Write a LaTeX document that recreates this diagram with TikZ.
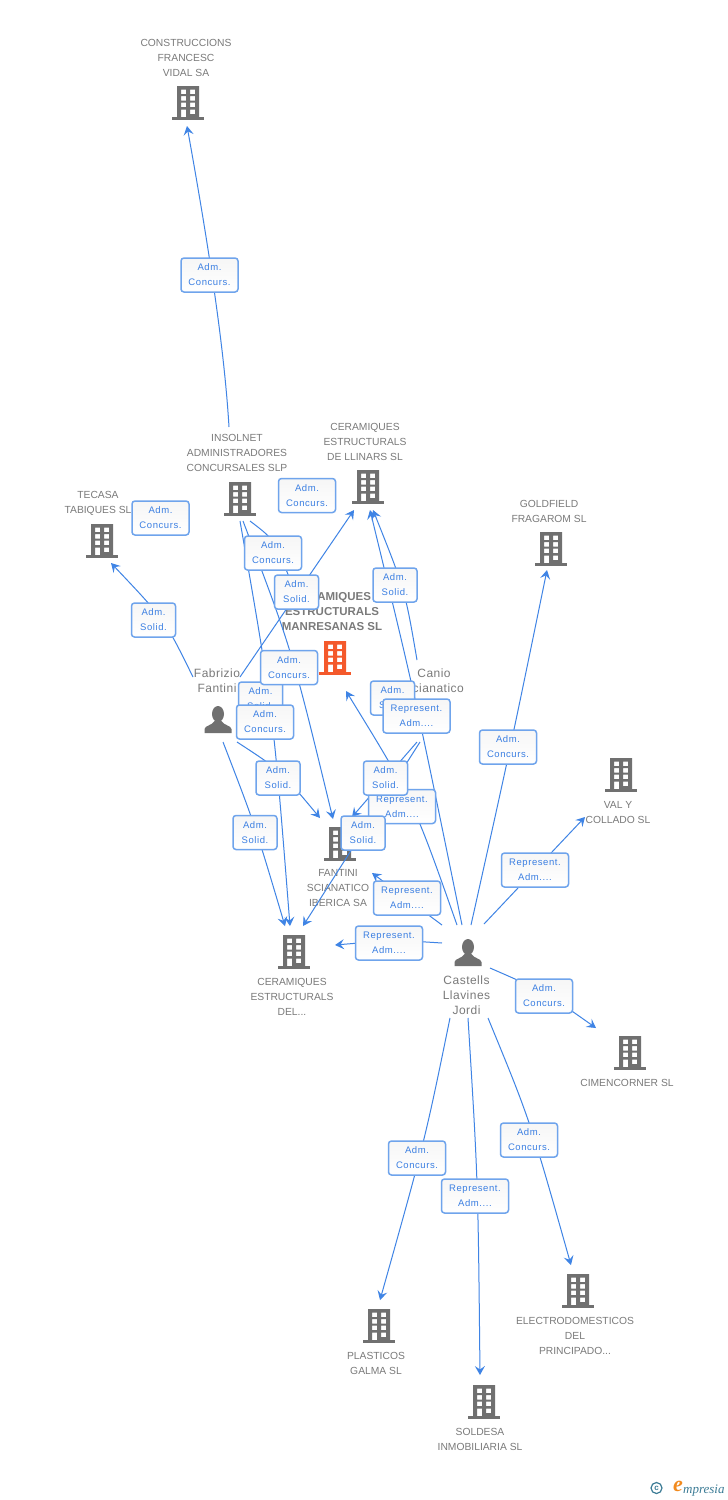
\documentclass[tikz,border=0pt]{standalone}
\usepackage{fontspec}
\setmainfont{Liberation Sans}
\newfontfamily\lblfont[LetterSpace=6]{Liberation Sans}
\newfontfamily\persfont[LetterSpace=4]{Liberation Sans}
\newfontfamily\logofont{Liberation Serif}
\definecolor{txtgray}{HTML}{7A7A7A}
\definecolor{icongray}{HTML}{707070}
\definecolor{iconred}{HTML}{F4592B}
\definecolor{linkblue}{HTML}{3F84E5}
\definecolor{boxblue}{HTML}{6FA4EC}
\definecolor{lbltxt}{HTML}{3B7FE2}
\definecolor{logoteal}{HTML}{3C7C96}
\definecolor{logoorange}{HTML}{F28A1E}
\definecolor{lbltop}{HTML}{F6F6F6}
\usetikzlibrary{arrows.meta}
\tikzset{
  conn/.style={draw=linkblue,line width=1pt,-{Stealth[length=9pt,width=10pt,inset=3.5pt]}},
  connplain/.style={draw=linkblue,line width=1pt},
  lblbase/.style={draw=boxblue,line width=1.5pt,rounded corners=3pt,top color=lbltop,bottom color=white,
    minimum height=34pt,inner sep=0pt,align=center,text=lbltxt,font=\lblfont\fontsize{9.5}{15}\selectfont},
  concurslbl/.style={lblbase,minimum width=57pt},
  solidlbl/.style={lblbase,minimum width=44pt},
  represlbl/.style={lblbase,minimum width=67pt},
  nm/.style={align=center,inner sep=0pt,text=txtgray,yshift=-1pt,font=\fontsize{10.3}{15}\selectfont},
  boldnm/.style={nm,font=\bfseries\fontsize{11.5}{15}\selectfont},
  persnm/.style={align=center,inner sep=0pt,text=txtgray,font=\persfont\fontsize{12}{15}\selectfont},
  anchorpt/.style={inner sep=0pt,minimum size=0pt},
}
% building icon: name, centre x, top y, colour
\newcommand\bldg[4]{%
  \node[anchorpt] (#1) at (#2,#3+17) {};
  \begin{scope}[shift={(#2,#3)}]
    \fill[#4,even odd rule] (-11,0) rectangle (11,31)
      (-7,3.5) rectangle (-2,8) (2,3.5) rectangle (7,8)
      (-7,10) rectangle (-2,14.5) (2,10) rectangle (7,14.5)
      (-7,16.5) rectangle (-2,21) (2,16.5) rectangle (7,21)
      (-7,23.5) rectangle (-2,31) (2,23.5) rectangle (7,28);
    \fill[#4] (-16,31) rectangle (16,33.5);
  \end{scope}}
% person icon: name, centre x, top y
\newcommand\persona[3]{%
  \node[anchorpt] (#1) at (#2,#3+14) {};
  \begin{scope}[shift={(#2,#3)}]
    \fill[icongray] (0,8) ellipse (6 and 8);
    \fill[icongray] (-13.5,27) -- (-13.5,23) .. controls (-13,19.5) and (-6,19.5) .. (-3.5,15)
      -- (3.5,15) .. controls (6,19.5) and (13,19.5) .. (13.5,23) -- (13.5,27) -- cycle;
  \end{scope}}
\begin{document}
\begin{tikzpicture}[x=1pt,y=-1pt]
\useasboundingbox (0,0) rectangle (728,1500);
\fill[white] (0,0) rectangle (728,1500);

% icons
\bldg{cons}{188}{86}{icongray}
\bldg{insol}{240}{482}{icongray}
\bldg{llin}{368}{470}{icongray}
\bldg{teca}{102}{524}{icongray}
\bldg{gold}{551}{532}{icongray}
\bldg{manr}{335}{641}{iconred}
\bldg{valy}{621}{758}{icongray}
\bldg{fant}{340}{827}{icongray}
\bldg{cdel}{294}{935}{icongray}
\bldg{cime}{630}{1036}{icongray}
\bldg{elec}{578}{1274}{icongray}
\bldg{plas}{379}{1309}{icongray}
\bldg{sold}{484}{1385}{icongray}
\persona{fabr}{218}{706}
\persona{cast}{468}{939}
\coordinate (cani) at (432,720);

% names
\node[nm] (tcons) at (186,57) {CONSTRUCCIONS\\FRANCESC\\VIDAL SA};
\node[nm] (tinsol) at (237,452) {INSOLNET\\ADMINISTRADORES\\CONCURSALES SLP};
\node[nm] (tllin) at (365,441) {CERAMIQUES\\ESTRUCTURALS\\DE LLINARS SL};
\node[nm] (tteca) at (98,502.5) {TECASA\\TABIQUES SL};
\node[nm] (tgold) at (549,510.5) {GOLDFIELD\\FRAGAROM SL};
\node[boldnm] (tmanr) at (332,611) {CERAMIQUES\\ESTRUCTURALS\\MANRESANAS SL};
\node[nm] (tvaly) at (618,811.5) {VAL Y\\COLLADO SL};
\node[nm] (tfant) at (338,887) {FANTINI\\SCIANATICO\\IBERICA SA};
\node[nm] (tcdel) at (292,996) {CERAMIQUES\\ESTRUCTURALS\\DEL...};
\node[nm] (tcime) at (627,1082) {CIMENCORNER SL};
\node[nm] (telec) at (575,1335) {ELECTRODOMESTICOS\\DEL\\PRINCIPADO...};
\node[nm] (tplas) at (376,1362.5) {PLASTICOS\\GALMA SL};
\node[nm] (tsold) at (480,1438.5) {SOLDESA\\INMOBILIARIA SL};
\node[persnm] (tfabr) at (217,680.5) {Fabrizio\\Fantini};
\node[persnm] (tcani) at (434,680.5) {Canio\\Scianatico};
\node[persnm] (tcast) at (466.5,995) {Castells\\Llavines\\Jordi};

% connector ends
\coordinate (a1) at (229,427);  \coordinate (b1) at (187,126);
\coordinate (a2) at (193,677);  \coordinate (b2) at (111,563);
\coordinate (a3) at (240,677);  \coordinate (b3) at (354,510);
\coordinate (a4) at (223,742);  \coordinate (b4) at (285,926);
\coordinate (a5) at (237,742);  \coordinate (b5) at (320,818);
\coordinate (a6) at (240,521);  \coordinate (b6) at (290,926);
\coordinate (a7) at (243,521);  \coordinate (b7) at (333,819);
\coordinate (a8) at (250,521);  \coordinate (b8) at (292,585);
\coordinate (a9) at (417,660);  \coordinate (b9) at (373,510);
\coordinate (a10) at (417,742); \coordinate (b10) at (352,817);
\coordinate (a11) at (420,742); \coordinate (b11) at (303,926);
\coordinate (a12) at (457,925); \coordinate (b12) at (346,691);
\coordinate (a13) at (442,925); \coordinate (b13) at (372,873);
\coordinate (a14) at (442,943); \coordinate (b14) at (335,945);
\coordinate (a15) at (471,925); \coordinate (b15) at (547,570);
\coordinate (a16) at (484,924); \coordinate (b16) at (585,817);
\coordinate (a17) at (490,968); \coordinate (b17) at (596,1028);
\coordinate (a18) at (488,1018);\coordinate (b18) at (571,1265);
\coordinate (a19) at (468,1018);\coordinate (b19) at (480,1375);
\coordinate (a20) at (450,1018);\coordinate (b20) at (380,1300);
\coordinate (a21) at (462,925); \coordinate (b21) at (370,510);

% connectors
\draw[conn] (a1) .. controls (225,360) and (213,270) .. (b1);
\draw[conn] (a2) .. controls (165,620) .. (b2);
\draw[conn] (a3) -- (b3);
\draw[conn] (a4) .. controls (255,825) .. (b4);
\draw[conn] (a5) .. controls (280,770) .. (b5);
\draw[conn] (a6) .. controls (273,710) .. (b6);
\draw[conn] (a7) .. controls (292,650) .. (b7);
\draw[connplain] (a8) .. controls (275,540) .. (b8);
\draw[conn] (a9) .. controls (405,590) .. (b9);
\draw[conn] (a10) -- (b10);
\draw[conn] (a11) -- (b11);
\draw[conn] (a12) .. controls (413,800) .. (b12);
\draw[conn] (a13) -- (b13);
\draw[conn] (a14) .. controls (395,940) .. (b14);
\draw[conn] (a15) .. controls (510,750) .. (b15);
\draw[conn] (a16) -- (b16);
\draw[conn] (a17) .. controls (545,992) .. (b17);
\draw[conn] (a18) .. controls (530,1120) .. (b18);
\draw[conn] (a19) .. controls (478,1180) .. (b19);
\draw[conn] (a20) .. controls (425,1140) .. (b20);
\draw[conn] (a21) .. controls (415,695) .. (b21);

% edge labels
\node[concurslbl] (l1) at (209.5,275) {Adm.\\Concurs.};
\node[concurslbl] (l2) at (160.5,518) {Adm.\\Concurs.};
\node[concurslbl] (l3) at (307,495.5) {Adm.\\Concurs.};
\node[concurslbl] (l4) at (273,553) {Adm.\\Concurs.};
\node[solidlbl] (l5) at (153.5,620) {Adm.\\Solid.};
\node[solidlbl] (l6) at (296.5,592) {Adm.\\Solid.};
\node[solidlbl] (l7) at (395,585) {Adm.\\Solid.};
\node[solidlbl] (l8) at (260.5,699) {Adm.\\Solid.};
\node[solidlbl] (l9) at (392.5,698) {Adm.\\Solid.};
\node[concurslbl] (l10) at (289,667.5) {Adm.\\Concurs.};
\node[concurslbl] (l11) at (265,722) {Adm.\\Concurs.};
\node[represlbl] (l12) at (416.5,716) {Represent.\\Adm....};
\node[represlbl] (l13) at (402,806.5) {Represent.\\Adm....};
\node[solidlbl] (l14) at (385.5,778) {Adm.\\Solid.};
\node[solidlbl] (l15) at (278,778) {Adm.\\Solid.};
\node[solidlbl] (l16) at (255,832.5) {Adm.\\Solid.};
\node[solidlbl] (l17) at (363,833) {Adm.\\Solid.};
\node[represlbl] (l18) at (407,898) {Represent.\\Adm....};
\node[represlbl] (l19) at (389,943) {Represent.\\Adm....};
\node[concurslbl] (l20) at (508,747) {Adm.\\Concurs.};
\node[represlbl] (l21) at (535,870) {Represent.\\Adm....};
\node[concurslbl] (l22) at (544,996) {Adm.\\Concurs.};
\node[concurslbl] (l23) at (529,1140) {Adm.\\Concurs.};
\node[concurslbl] (l24) at (417,1158) {Adm.\\Concurs.};
\node[represlbl] (l25) at (475,1196) {Represent.\\Adm....};

% logo
\node[circle,draw=logoteal,line width=1.2pt,minimum size=11pt,inner sep=0pt,text=logoteal,font=\bfseries\fontsize{8}{8}\selectfont] (copy) at (656.5,1488) {c};
\node[inner sep=0pt,text=logoorange,font=\logofont\itshape\bfseries\fontsize{22}{22}\selectfont] (logoe) at (678,1486) {e};
\node[inner sep=0pt,anchor=base west,text=logoteal,font=\logofont\itshape\fontsize{13}{13}\selectfont] (logot) at (683,1493) {mpresia};
\end{tikzpicture}
\end{document}
